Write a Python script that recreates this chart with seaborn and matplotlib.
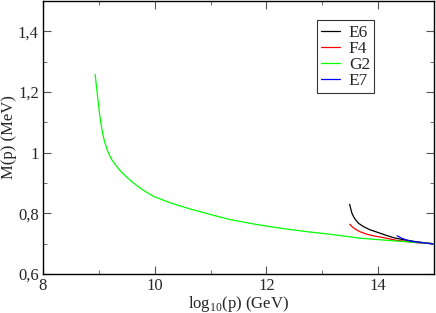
import matplotlib
matplotlib.use('Agg')
import matplotlib.pyplot as plt
import seaborn as sns
import pandas as pd
from matplotlib.ticker import MultipleLocator, FuncFormatter

# log10(p) in GeV and M(p) in MeV
g2_x = [8.934, 8.955, 8.977, 9.0, 9.02, 9.045, 9.07, 9.1, 9.155, 9.22,
        9.304, 9.39, 9.482, 9.58, 9.67, 9.83, 9.99, 10.29, 10.64,
        11.0, 11.36, 11.8, 12.25, 12.7, 13.14, 13.68, 14.3, 14.98]
g2_y = [1.258, 1.222, 1.185, 1.148, 1.118, 1.088, 1.062, 1.038, 1.006, 0.980,
        0.958, 0.939, 0.922, 0.906, 0.893, 0.872, 0.855, 0.834, 0.814,
        0.796, 0.779, 0.764, 0.751, 0.740, 0.731, 0.718, 0.709, 0.700]
e6_x = [13.49, 13.51, 13.53, 13.56, 13.59, 13.65, 13.74, 13.85, 13.98,
        14.12, 14.27, 14.45, 14.7, 14.98]
e6_y = [0.830, 0.815, 0.801, 0.789, 0.780, 0.767, 0.756, 0.746, 0.738,
        0.729, 0.720, 0.713, 0.706, 0.700]
f4_x = [13.49, 13.54, 13.59, 13.68, 13.80, 13.94, 14.09, 14.33, 14.7, 14.98]
f4_y = [0.764, 0.755, 0.748, 0.739, 0.731, 0.725, 0.720, 0.711, 0.703, 0.700]
e7_x = [14.34, 14.42, 14.51, 14.62, 14.75, 14.98]
e7_y = [0.726, 0.718, 0.712, 0.707, 0.704, 0.699]

series = [('E6', e6_x, e6_y, 'black'),
          ('F4', f4_x, f4_y, 'red'),
          ('G2', g2_x, g2_y, '#00ff00'),
          ('E7', e7_x, e7_y, 'blue')]

sns.set_style('ticks')
plt.rcParams['font.family'] = ['Liberation Serif', 'DejaVu Serif']
plt.rcParams['font.size'] = 12
plt.rcParams['mathtext.fontset'] = 'custom'
plt.rcParams['mathtext.rm'] = 'Liberation Serif'

fig = plt.figure(figsize=(4.36, 3.13), dpi=100)
ax = fig.add_axes([43 / 436, 39 / 313, 391 / 436, 273 / 313])

for name, xs, ys, color in series:
    df = pd.DataFrame({'x': xs, 'y': ys})
    sns.lineplot(data=df, x='x', y='y', ax=ax, color=color, linewidth=0.9,
                 label=name, sort=False, estimator=None)

ax.set_xlim(8, 15)
ax.set_ylim(0.6, 1.5)
ax.xaxis.set_major_locator(MultipleLocator(2))
ax.xaxis.set_minor_locator(MultipleLocator(1))
ax.yaxis.set_major_locator(MultipleLocator(0.2))
ax.yaxis.set_minor_locator(MultipleLocator(0.1))
ax.yaxis.set_major_formatter(FuncFormatter(lambda v, p: f'{v:g}'.replace('.', ',')))
ax.tick_params(which='both', direction='in', top=True, right=True, color='#555555')
ax.tick_params(which='major', length=6, labelsize=12, pad=3)
ax.tick_params(which='minor', length=3)
for s in ax.spines.values():
    s.set_linewidth(1.0)
    s.set_color('black')

ax.set_xlabel(r'log$_{10}$(p) (GeV)', fontsize=12, labelpad=0)
ax.set_ylabel('M(p) (MeV)', fontsize=12, labelpad=1)

leg = ax.legend(loc='upper left', bbox_to_anchor=(0.70, 0.93), frameon=True,
                fancybox=False, handlelength=1.1, handletextpad=0.5,
                borderpad=0.25, labelspacing=0.0, borderaxespad=0, fontsize=12.5)
leg.get_frame().set_edgecolor('black')
leg.get_frame().set_linewidth(0.8)

fig.savefig('out.png', dpi=100)
